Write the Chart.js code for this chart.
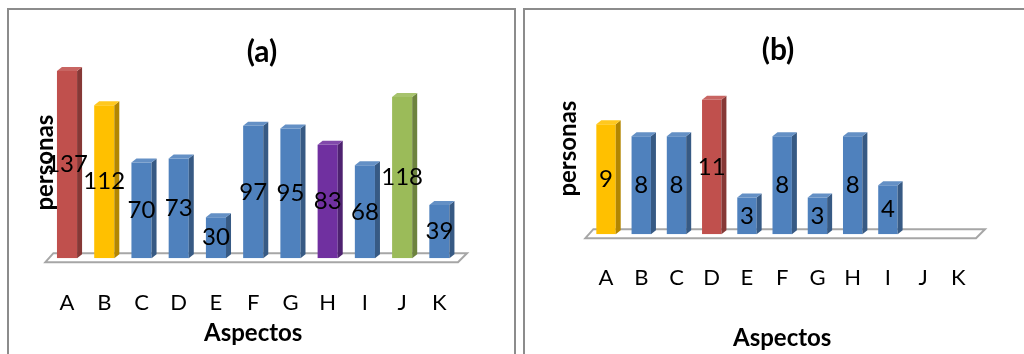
<!DOCTYPE html>
<html>
<head>
<meta charset="utf-8">
<script src="https://cdn.jsdelivr.net/npm/chart.js@4.4.1/dist/chart.umd.min.js"></script>
<style>
html, body { margin: 0; padding: 0; background: #fff; overflow: hidden; width: 1024px; height: 354px; }
.painel { position: absolute; top: 8px; height: 360px; border: 2px solid #8c8c8c; background: #fff; }
#painelA { left: 7px; width: 505px; }
#painelB { left: 523px; width: 520px; }
canvas { display: block; }
</style>
</head>
<body>
<div class="painel" id="painelA"><canvas id="graficoA" width="505" height="350"></canvas></div>
<div class="painel" id="painelB"><canvas id="graficoB" width="499" height="350"></canvas></div>
<script>
// dados
const categorias = ['A', 'B', 'C', 'D', 'E', 'F', 'G', 'H', 'I', 'J', 'K'];
const valoresA = [137, 112, 70, 73, 30, 97, 95, 83, 68, 118, 39];
const valoresB = [9, 8, 8, 11, 3, 8, 3, 8, 4, null, null];

const vermelho = '#C0504D', amarelo = '#FFC000', azul = '#4F81BD', roxo = '#7030A0', verde = '#9BBB59';
const coresA = [vermelho, amarelo, azul, azul, azul, azul, azul, roxo, azul, verde, azul];
const coresB = [amarelo, azul, azul, vermelho, azul, azul, azul, azul, azul, azul, azul];

const fonte = 'Lato';

function tom(hex, f) {
    const n = parseInt(hex.slice(1), 16);
    let r = (n >> 16) & 255, g = (n >> 8) & 255, b = n & 255;
    if (f < 1) { r *= f; g *= f; b *= f; }
    else { r += (255 - r) * (f - 1); g += (255 - g) * (f - 1); b += (255 - b) * (f - 1); }
    return 'rgb(' + Math.round(r) + ',' + Math.round(g) + ',' + Math.round(b) + ')';
}

function poligono(ctx, pts, cor) {
    ctx.beginPath();
    ctx.moveTo(pts[0][0], pts[0][1]);
    for (let i = 1; i < pts.length; i++) ctx.lineTo(pts[i][0], pts[i][1]);
    ctx.closePath();
    ctx.fillStyle = cor;
    ctx.fill();
}

// piso e faces 3D das barras, rotulos e titulo
const efeito3d = {
    id: 'efeito3d',
    beforeDatasetsDraw(chart) {
        const ctx = chart.ctx;
        const ca = chart.chartArea;
        const base = chart.scales.y.getPixelForValue(0);
        ctx.save();
        ctx.beginPath();
        ctx.moveTo(ca.left - 3, base + 4);
        ctx.lineTo(ca.left + 5, base - 5);
        ctx.lineTo(ca.right + 9, base - 5);
        ctx.lineTo(ca.right, base + 4);
        ctx.closePath();
        ctx.fillStyle = '#ffffff';
        ctx.fill();
        ctx.strokeStyle = '#a6a6a6';
        ctx.lineWidth = 2;
        ctx.stroke();
        ctx.restore();
    },
    afterDatasetsDraw(chart) {
        const ctx = chart.ctx;
        const ds = chart.data.datasets[0];
        const meta = chart.getDatasetMeta(0);
        ctx.save();
        meta.data.forEach((barra, i) => {
            if (ds.data[i] == null) return;
            const p = barra.getProps(['x', 'y', 'base', 'width'], true);
            const e = p.x - p.width / 2, d = p.x + p.width / 2;
            const dx = 5, dy = 4;
            poligono(ctx, [[d, p.y], [d + dx, p.y - dy], [d + dx, p.base - dy], [d, p.base]], tom(ds.backgroundColor[i], 0.7));
            poligono(ctx, [[e, p.y], [e + dx, p.y - dy], [d + dx, p.y - dy], [d, p.y]], tom(ds.backgroundColor[i], 1.12));
        });
        ctx.fillStyle = '#000';
        ctx.font = '24px ' + fonte;
        ctx.textAlign = 'center';
        ctx.textBaseline = 'middle';
        meta.data.forEach((barra, i) => {
            if (ds.data[i] == null) return;
            const p = barra.getProps(['x', 'y', 'base'], true);
            ctx.fillText(String(ds.data[i]), p.x, (p.y + p.base) / 2);
        });
        ctx.restore();
    },
    afterDraw(chart, args, opts) {
        const ctx = chart.ctx;
        ctx.save();
        ctx.fillStyle = '#000';
        ctx.font = 'bold 30px ' + fonte;
        ctx.textAlign = 'center';
        ctx.textBaseline = 'middle';
        ctx.fillText(opts.texto, opts.x, opts.y);
        ctx.restore();
    }
};

function criargrafico(canvasID, valores, cores, maximo, cfg) {
    const ctx = document.getElementById(canvasID).getContext('2d');

    return new Chart(ctx, {
        type: 'bar',
        data: {
            labels: categorias,
            datasets: [{
                data: valores,
                backgroundColor: cores,
                borderWidth: 0,
                barPercentage: cfg.barra,
                categoryPercentage: 1
            }]
        },
        options: {
            responsive: false,
            animation: false,
            layout: { padding: cfg.padding },
            plugins: {
                legend: { display: false },
                tooltip: { enabled: false },
                efeito3d: { texto: cfg.titulo, x: 253, y: cfg.tituloY }
            },
            scales: {
                x: {
                    grid: { display: false, drawTicks: false },
                    border: { display: false },
                    ticks: { padding: cfg.tickPad, color: '#000', font: { family: fonte, size: 22 }, maxRotation: 0, autoSkip: false },
                    title: { display: true, text: 'Aspectos', color: '#000', font: { family: fonte, size: 24, weight: 'bold' }, padding: cfg.xTitPad }
                },
                y: {
                    min: 0,
                    max: maximo,
                    grid: { display: false, drawTicks: false },
                    border: { display: false },
                    ticks: { display: false },
                    title: { display: true, text: 'personas', color: '#000', font: { family: fonte, size: 24, weight: 'bold' }, padding: cfg.yTitPad }
                }
            }
        },
        plugins: [efeito3d]
    });
}

criargrafico('graficoA', valoresA, coresA, 140, {
    titulo: '(a)', tituloY: 42, barra: 0.54, tickPad: 32,
    padding: { top: 57, left: 17.6, right: 56, bottom: 8.6 },
    xTitPad: { top: -30, bottom: 4 },
    yTitPad: { top: 4, bottom: -11 }
});

criargrafico('graficoB', valoresB, coresB, 14, {
    titulo: '(b)', tituloY: 40, barra: 0.55, tickPad: 31,
    padding: { top: 53, left: 24.6, right: 48, bottom: 3.6 },
    xTitPad: { top: 1, bottom: 4 },
    yTitPad: { top: 4, bottom: 6 }
});
</script>
</body>
</html>
